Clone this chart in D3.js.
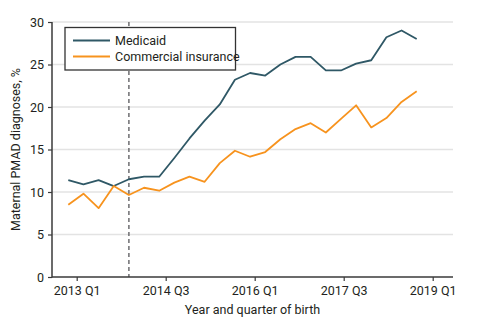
<!DOCTYPE html>
<html>
<head>
<meta charset="utf-8">
<script src="https://cdn.jsdelivr.net/npm/d3@7"></script>
<style>
  body { margin: 0; background: #fff; }
  text { font-family: Roboto, "Liberation Sans", sans-serif; fill: #231f20; }
</style>
</head>
<body>
<div id="chart"></div>
<script>
var width = 479;
var height = 327;

// quarters of birth, 2013 Q1 .. 2018 Q4
var quarters = [];
for (var yr = 2013; yr <= 2018; yr++) {
  for (var q = 1; q <= 4; q++) quarters.push(yr + " Q" + q);
}

var medicaid = [11.4, 10.9, 11.4, 10.7, 11.5, 11.8, 11.8, 14.0,
                16.3, 18.4, 20.3, 23.2, 24.0, 23.7, 25.0, 25.9,
                25.9, 24.3, 24.3, 25.1, 25.5, 28.2, 29.0, 28.0];
var commercial = [8.5, 9.8, 8.1, 10.7, 9.65, 10.5, 10.15, 11.1,
                  11.8, 11.2, 13.4, 14.85, 14.15, 14.7, 16.2, 17.4,
                  18.1, 17.0, 18.6, 20.2, 17.6, 18.7, 20.6, 21.85];

var tickLabels = ["2013 Q1", "2014 Q3", "2016 Q1", "2017 Q3", "2019 Q1"];
var yTicks = [0, 5, 10, 15, 20, 25, 30];
var policyQuarter = "2014 Q1";

var seriesNames = ["Medicaid", "Commercial insurance"];
var colors = ["#2f5866", "#f7931e"];

var plotLeft = 52, plotRight = 453, plotTop = 22, plotBottom = 277;
var fontSize = "12.5px";

var svg = d3.select("#chart")
  .append("svg")
  .attr("width", width)
  .attr("height", height);

var yScale = d3.scaleLinear().domain([0, 30]).range([plotBottom, plotTop]);

// data points sit on their own quarter index
var xScale = d3.scaleLinear()
  .domain([0, quarters.length - 1])
  .range([68.3, 416.7]);

// axis labels are spaced every 6 quarters
var xLabelScale = d3.scalePoint()
  .domain(tickLabels)
  .range([76.7, 432.7]);

// gridlines
svg.append("g")
  .selectAll("line")
  .data(yTicks.filter(function(d) { return d > 0; }))
  .enter()
  .append("line")
  .attr("x1", plotLeft)
  .attr("x2", plotRight)
  .attr("y1", function(d) { return yScale(d); })
  .attr("y2", function(d) { return yScale(d); })
  .attr("stroke", "#e3e3e3")
  .attr("stroke-width", 1.5);

// dashed marker
var px = xScale(quarters.indexOf(policyQuarter));
svg.append("line")
  .attr("x1", px).attr("x2", px)
  .attr("y1", plotTop).attr("y2", plotBottom)
  .attr("stroke", "#6d6e71")
  .attr("stroke-width", 1.5)
  .attr("stroke-dasharray", "4,3");

// axes
var yAxis = d3.axisLeft(yScale).tickValues(yTicks).tickSize(4).tickPadding(4);
var gy = svg.append("g")
  .attr("transform", "translate(" + plotLeft + ",0)")
  .call(yAxis);
gy.select(".domain").remove();
gy.selectAll("line").attr("stroke", "#3a3a3a").attr("stroke-width", 1.2);
gy.selectAll("text").style("font-size", fontSize).attr("fill", "#231f20");

var xAxis = d3.axisBottom(xLabelScale).tickSize(4).tickPadding(5);
var gx = svg.append("g")
  .attr("transform", "translate(0," + plotBottom + ")")
  .call(xAxis);
gx.select(".domain").remove();
gx.selectAll("line").attr("stroke", "#3a3a3a").attr("stroke-width", 1.2);
gx.selectAll("text").style("font-size", fontSize).attr("fill", "#231f20");

svg.append("line")
  .attr("x1", plotLeft).attr("x2", plotLeft)
  .attr("y1", plotTop).attr("y2", plotBottom + 0.5)
  .attr("stroke", "#3a3a3a").attr("stroke-width", 1.5);
svg.append("line")
  .attr("x1", plotLeft).attr("x2", plotRight)
  .attr("y1", plotBottom).attr("y2", plotBottom)
  .attr("stroke", "#3a3a3a").attr("stroke-width", 1.5);

// lines
var line = d3.line()
  .x(function(d, i) { return xScale(i); })
  .y(function(d) { return yScale(d); });

[medicaid, commercial].forEach(function(s, k) {
  svg.append("path")
    .datum(s)
    .attr("d", line)
    .attr("fill", "none")
    .attr("stroke", colors[k])
    .attr("stroke-width", 1.8)
    .attr("stroke-linejoin", "round");
});

// legend
var legend = svg.append("g").attr("transform", "translate(65,27.5)");
legend.append("rect")
  .attr("width", 170.5)
  .attr("height", 42.5)
  .attr("fill", "#fff")
  .attr("stroke", "#333")
  .attr("stroke-width", 1.3);
seriesNames.forEach(function(name, k) {
  var ly = 13 + k * 16;
  legend.append("line")
    .attr("x1", 8).attr("x2", 45)
    .attr("y1", ly).attr("y2", ly)
    .attr("stroke", colors[k])
    .attr("stroke-width", 1.8);
  legend.append("text")
    .attr("x", 50)
    .attr("y", ly)
    .attr("dy", "0.35em")
    .style("font-size", fontSize)
    .text(name);
});

// axis titles
svg.append("text")
  .attr("x", (plotLeft + plotRight) / 2)
  .attr("y", 314)
  .attr("text-anchor", "middle")
  .style("font-size", fontSize)
  .text("Year and quarter of birth");

svg.append("text")
  .attr("transform", "translate(20," + ((plotTop + plotBottom) / 2) + ")rotate(-90)")
  .attr("text-anchor", "middle")
  .style("font-size", fontSize)
  .text("Maternal PMAD diagnoses, %");
</script>
</body>
</html>
